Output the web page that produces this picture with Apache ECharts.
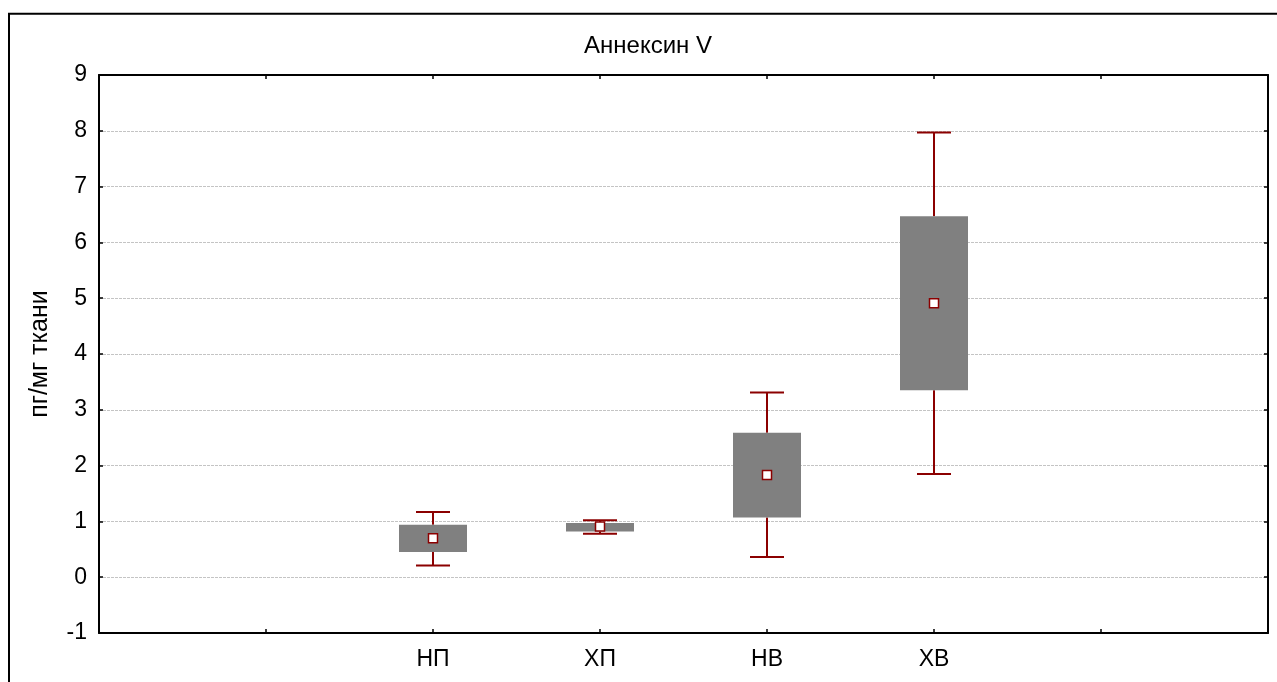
<!DOCTYPE html>
<html>
<head>
<meta charset="utf-8">
<script src="https://cdn.jsdelivr.net/npm/echarts@6/dist/echarts.min.js"></script>
<style>
  html, body { margin: 0; padding: 0; background: #fff; }
  #chart { width: 1277px; height: 682px; }
</style>
</head>
<body>
<div id="chart"></div>
<script>
// Groups shown on the x axis
const categories = ['НП', 'ХП', 'НВ', 'ХВ'];
// Per-group statistics (пг/мг ткани)
const whiskerLow  = [0.21, 0.78, 0.36, 1.85];
const boxLow      = [0.45, 0.82, 1.07, 3.35];
const centerValue = [0.70, 0.91, 1.83, 4.91];
const boxHigh     = [0.94, 0.97, 2.59, 6.47];
const whiskerHigh = [1.17, 1.02, 3.31, 7.97];
// Value axis ticks
const yTicks = [-1, 0, 1, 2, 3, 4, 5, 6, 7, 8, 9];

// Two empty slots on each side keep the groups in the middle of the axis
const axisSlots = ['', ''].concat(categories, ['', '']);

const rows = categories.map((c, i) =>
  [c, whiskerLow[i], boxLow[i], centerValue[i], boxHigh[i], whiskerHigh[i]]);

const DARK_RED = '#8b0000';
const BOX_W = 68, CAP_W = 34, MARK = 9;

function renderBox(params, api) {
  const x = api.coord([api.value(0), 0])[0];
  const y = v => api.coord([api.value(0), v])[1];
  const yMin = y(api.value(1)), yQ1 = y(api.value(2)), yMid = y(api.value(3)),
        yQ3 = y(api.value(4)), yMax = y(api.value(5));
  const line = (x1, y1, x2, y2) => ({
    type: 'line', shape: { x1, y1, x2, y2 },
    style: { stroke: DARK_RED, lineWidth: 2 }
  });
  return {
    type: 'group',
    children: [
      line(x, yQ3, x, yMax),
      line(x, yQ1, x, yMin),
      line(x - CAP_W / 2, yMax, x + CAP_W / 2, yMax),
      line(x - CAP_W / 2, yMin, x + CAP_W / 2, yMin),
      { type: 'rect', shape: { x: x - BOX_W / 2, y: yQ3, width: BOX_W, height: yQ1 - yQ3 },
        style: { fill: '#808080' } },
      { type: 'rect', shape: { x: x - MARK / 2, y: yMid - MARK / 2, width: MARK, height: MARK },
        style: { fill: '#ffffff', stroke: DARK_RED, lineWidth: 1.5 } }
    ]
  };
}

const FONT = '"Liberation Sans", Arial, sans-serif';
const axisLine = { show: true, onZero: false, lineStyle: { color: '#000', width: 2 } };
const tickIn = { show: true, inside: true, length: 4, lineStyle: { color: '#000', width: 1.5 } };

const chart = echarts.init(document.getElementById('chart'), null, { renderer: 'canvas' });
chart.setOption({
  animation: false,
  backgroundColor: '#fff',
  grid: { left: 99, top: 75, width: 1169, height: 558, containLabel: false },
  graphic: [
    { type: 'rect', shape: { x: 9, y: 13.7, width: 1320, height: 720 },
      style: { fill: null, stroke: '#000', lineWidth: 2 }, silent: true },
    { type: 'text', x: 648, y: 46,
      style: { text: 'Аннексин V', font: '24px ' + FONT, fill: '#000',
               textAlign: 'center', textVerticalAlign: 'middle' } }
  ],
  xAxis: [
    { type: 'category', data: axisSlots, boundaryGap: false, position: 'bottom',
      axisLine, axisTick: Object.assign({ interval: 0 }, tickIn),
      axisLabel: { interval: 0, margin: 15, color: '#000', fontSize: 23, fontFamily: FONT },
      splitLine: { show: false } },
    { type: 'category', data: axisSlots, boundaryGap: false, position: 'top',
      axisLine, axisTick: Object.assign({ interval: 0 }, tickIn),
      axisLabel: { show: false }, splitLine: { show: false } }
  ],
  yAxis: [
    { type: 'value', min: yTicks[0], max: yTicks[yTicks.length - 1], interval: 1,
      position: 'left', axisLine, axisTick: tickIn,
      name: 'пг/мг ткани', nameLocation: 'middle', nameGap: 46, nameRotate: 90,
      nameTextStyle: { color: '#000', fontSize: 25, fontFamily: FONT },
      axisLabel: { margin: 12, color: '#000', fontSize: 23, fontFamily: FONT },
      splitLine: { show: true, lineStyle: { color: '#c4c4c4', width: 1, type: [3, 1] } } },
    { type: 'value', min: yTicks[0], max: yTicks[yTicks.length - 1], interval: 1,
      position: 'right', axisLine, axisTick: tickIn,
      axisLabel: { show: false }, splitLine: { show: false } }
  ],
  series: [{
    type: 'custom',
    xAxisIndex: 0, yAxisIndex: 0,
    renderItem: renderBox,
    encode: { x: 0, y: [1, 2, 3, 4, 5] },
    data: rows,
    z: 5
  }]
});
</script>
</body>
</html>
